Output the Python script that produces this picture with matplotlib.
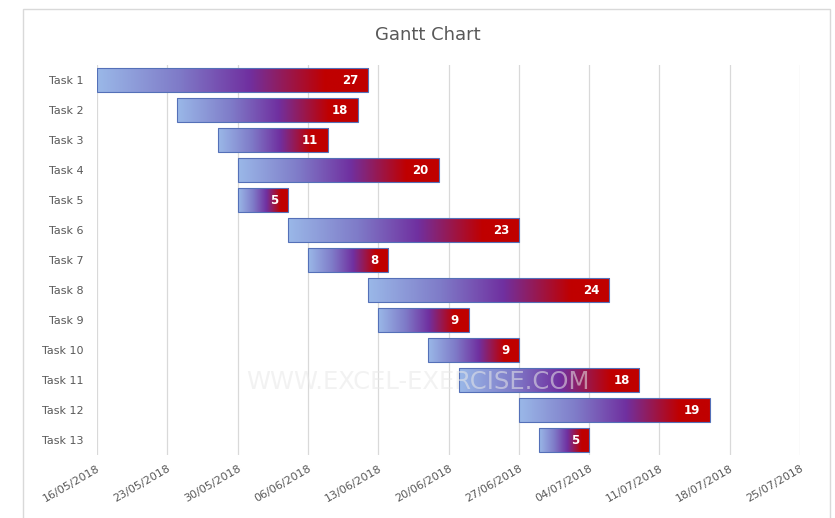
import matplotlib
matplotlib.use('Agg')
import matplotlib.pyplot as plt
import matplotlib.dates as mdates
from matplotlib.colors import LinearSegmentedColormap
from matplotlib.patches import Rectangle
import numpy as np
from datetime import date, timedelta

# Données du diagramme de Gantt
tasks = ['Task 1', 'Task 2', 'Task 3', 'Task 4', 'Task 5', 'Task 6', 'Task 7',
         'Task 8', 'Task 9', 'Task 10', 'Task 11', 'Task 12', 'Task 13']
start_dates = ['2018-05-16', '2018-05-24', '2018-05-28', '2018-05-30', '2018-05-30',
               '2018-06-04', '2018-06-06', '2018-06-12', '2018-06-13', '2018-06-18',
               '2018-06-21', '2018-06-27', '2018-06-29']
durations = [27, 18, 11, 20, 5, 23, 8, 24, 9, 9, 18, 19, 5]

# Axe des dates
axis_start = date(2018, 5, 16)
axis_end = date(2018, 7, 25)

gray = '#595959'
cmap = LinearSegmentedColormap.from_list(
    'gantt', [(0.0, '#9AB8E8'), (0.3, '#7F7BC8'), (0.56, '#7030A0'),
              (0.84, '#C00000'), (1.0, '#C00000')])
gradient = np.linspace(0, 1, 256).reshape(1, -1)

fig = plt.figure(figsize=(8.35, 5.18), dpi=100)
ax = fig.add_axes([0.1162, 0.1216, 0.842, 0.7529])

# Cadre du graphique
fig.patches.append(Rectangle((23 / 835, -0.01), 807 / 835, 1 - 9 / 518 + 0.01,
                             transform=fig.transFigure, fill=False,
                             edgecolor='#D9D9D9', linewidth=1))

starts = [mdates.date2num(date.fromisoformat(s)) for s in start_dates]
y = np.arange(len(tasks))
bar_h = 0.78

bars = ax.barh(y, durations, left=starts, height=bar_h, facecolor='none',
               edgecolor='#5470B8', linewidth=0.8, zorder=3)

for i, b in enumerate(bars):
    x0 = starts[i]
    x1 = starts[i] + durations[i]
    ax.imshow(gradient, extent=[x0, x1, y[i] + bar_h / 2, y[i] - bar_h / 2],
              aspect='auto', cmap=cmap, zorder=2, interpolation='bicubic')
    ax.annotate(str(durations[i]), xy=(x1, y[i]), xytext=(-7, 0),
                textcoords='offset points', ha='right', va='center',
                color='white', fontsize=8.5, fontweight='bold', zorder=6)

ax.set_xlim(mdates.date2num(axis_start), mdates.date2num(axis_end))
ax.set_ylim(len(tasks) - 0.5, -0.5)

ticks = [mdates.date2num(axis_start + timedelta(days=7 * k)) for k in range(11)]
ax.set_xticks(ticks)
ax.xaxis.set_major_formatter(mdates.DateFormatter('%d/%m/%Y'))
ax.set_yticks(y)
ax.set_yticklabels(tasks)

for lab in ax.get_xticklabels():
    lab.set_rotation(30)
    lab.set_ha('right')
    lab.set_rotation_mode('anchor')
ax.tick_params(axis='x', length=0, pad=6, labelsize=8, labelcolor=gray)
ax.tick_params(axis='y', length=0, pad=10, labelsize=8, labelcolor=gray)

ax.grid(axis='x', color='#D9D9D9', linewidth=0.9, zorder=0)
ax.set_axisbelow(True)
for s in ax.spines.values():
    s.set_visible(False)

fig.text(0.512, 0.932, 'Gantt Chart', ha='center', va='center',
         fontsize=13, color=gray)

# Filigrane
fig.text(0.500, 0.262, 'WWW.EXCEL-EXERCISE.COM', ha='center', va='center',
         fontsize=17.5, color='#E8E8E8', alpha=0.55, zorder=5)

fig.savefig('out.png', dpi=100, facecolor='white')
